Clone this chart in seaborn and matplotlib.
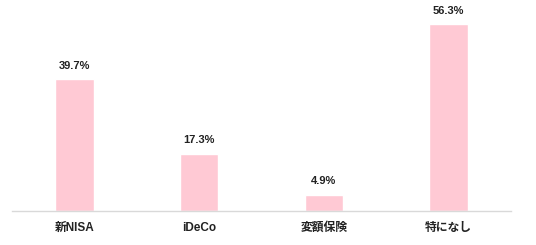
import matplotlib
matplotlib.use("Agg")
import matplotlib.pyplot as plt
import seaborn as sns
import pandas as pd

categories = ["新NISA", "iDeCo", "変額保険", "特になし"]
values = [39.7, 17.3, 4.9, 56.3]
labels = ["39.7%", "17.3%", "4.9%", "56.3%"]

sns.set_theme(style="white")
plt.rcParams['font.family'] = ['Liberation Sans', 'Noto Sans CJK JP', 'DejaVu Sans']

df = pd.DataFrame({"cat": categories, "val": values})

fig = plt.figure(figsize=(5.36, 2.45), dpi=100)
ax = fig.add_axes([12/536, 34/245, 499/536, 199.3/245])
sns.barplot(data=df, x="cat", y="val", color="#FFC9D4", saturation=1, width=0.31, ax=ax)
ax.set_xlim(-0.5, 3.5)
ax.set_ylim(0, 60)
for p, lab in zip(ax.patches, labels):
    ax.annotate(lab, (p.get_x() + p.get_width()/2, p.get_height()),
                xytext=(0, 6), textcoords="offset points", ha="center", va="bottom",
                fontsize=8, fontweight="bold", color="#222222")
ax.set_xlabel("")
ax.set_ylabel("")
ax.set_yticks([])
for s in ["top", "right", "left"]:
    ax.spines[s].set_visible(False)
ax.spines["bottom"].set_color("#d9d9d9")
ax.spines["bottom"].set_linewidth(1)
ax.tick_params(axis="x", length=0, pad=8, labelsize=8.5, colors="#222222")
for t in ax.get_xticklabels():
    t.set_fontweight("bold")
fig.savefig("out.png", dpi=100)
